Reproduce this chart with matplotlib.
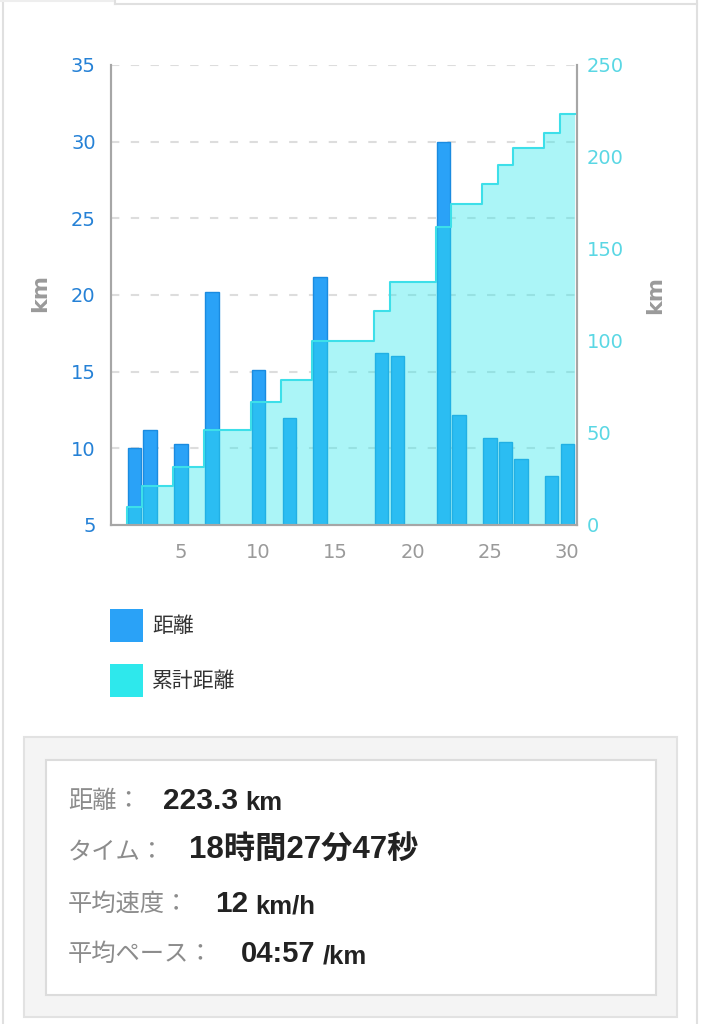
import matplotlib
matplotlib.use("Agg")
import matplotlib.pyplot as plt
import numpy as np
from matplotlib.patches import Rectangle
from matplotlib.lines import Line2D

# daily distances (km) for the month
run_days = [2, 3, 5, 7, 10, 12, 14, 18, 19, 22, 23, 25, 26, 27, 29, 30]
distances = [10.0, 11.2, 10.3, 20.2, 15.1, 12.0, 21.2, 16.2, 16.0, 30.0,
             12.2, 10.7, 10.4, 9.3, 8.2, 10.3]

left_ticks = [5, 10, 15, 20, 25, 30, 35]
right_ticks = [0, 50, 100, 150, 200, 250]
x_ticks = [5, 10, 15, 20, 25, 30]

legend_labels = ["距離", "累計距離"]
stat_labels = ["距離：", "タイム：", "平均速度：", "平均ペース："]
stat_values = ["223.3", "18時間27分47秒", "12", "04:57"]
stat_units = ["km", "", "km/h", "/km"]

W, H = 702, 1024
BAR_COLOR = "#2aa2f7"
CUM_COLOR = "#2ee8ec"
JP = ["Noto Sans CJK JP", "DejaVu Sans"]
NUM = ["Liberation Sans", "Noto Sans CJK JP"]


def fx(x):
    return x / W


def fy(y):
    return 1 - y / H


fig = plt.figure(figsize=(W / 100, H / 100), dpi=100)
fig.patch.set_facecolor("white")

ax = fig.add_axes([fx(111), fy(525), fx(577) - fx(111), fy(65) - fy(525)])
ax2 = ax.twinx()

days = np.array(run_days)
dist = np.array(distances)
cum = np.cumsum(dist)

# bars
ax.bar(days, dist, width=0.86, color=BAR_COLOR, edgecolor="#1a8be0",
       linewidth=1, zorder=2)
ax.set_xlim(0.47, 30.63)
ax.set_ylim(5, 35)
ax.set_yticks(left_ticks)
ax.set_xticks(x_ticks)
ax.yaxis.grid(True, color="#dddddd", linestyle=(0, (4, 5.5)), linewidth=1.5)
ax.set_axisbelow(True)

# cumulative step area
edge_x = np.append(days - 0.5, days[-1] + 0.5)
edge_y = np.append(cum, cum[-1])
ax2.fill_between(edge_x, edge_y, 0, step="post", color=CUM_COLOR,
                 alpha=0.4, linewidth=0)
ax2.plot(np.r_[edge_x[0], edge_x], np.r_[0, edge_y], drawstyle="steps-post",
         color="#3ddfe9", linewidth=1.5)
ax2.set_ylim(0, 250)
ax2.set_yticks(right_ticks)

for a in (ax, ax2):
    a.spines["top"].set_visible(False)
    for s in ("left", "bottom", "right"):
        a.spines[s].set_color("#a6a6a6")
        a.spines[s].set_linewidth(1.5)

ax.tick_params(axis="y", length=0, pad=11, labelsize=14, labelcolor="#2581d6")
ax.tick_params(axis="x", length=0, pad=13, labelsize=14, labelcolor="#9a9a9a")
ax2.tick_params(axis="y", length=0, pad=7, labelsize=14, labelcolor="#5ad7e4")

fig.text(fx(40), fy(293), "km", rotation=90, ha="center", va="center",
         fontsize=16, fontweight="bold", color="#9a9a9a")
fig.text(fx(655), fy(295), "km", rotation=90, ha="center", va="center",
         fontsize=16, fontweight="bold", color="#9a9a9a")

# legend
for i, (lab, col) in enumerate(zip(legend_labels, [BAR_COLOR, CUM_COLOR])):
    top = 609 + i * 55
    fig.patches.append(Rectangle((fx(110), fy(top + 33)), fx(33), 33 / H,
                                 transform=fig.transFigure, facecolor=col,
                                 edgecolor="none"))
    fig.text(fx(152), fy(top + 17), lab, ha="left", va="center",
             fontsize=15, color="#333333", family=JP)

# stats box
fig.patches.append(Rectangle((fx(24), fy(1017)), fx(653), 280 / H,
                             transform=fig.transFigure, facecolor="#f4f4f4",
                             edgecolor="#e2e2e2", linewidth=1.5))
fig.patches.append(Rectangle((fx(46), fy(995)), fx(610), 235 / H,
                             transform=fig.transFigure, facecolor="white",
                             edgecolor="#dcdcdc", linewidth=1.5))

row_y = [801, 851, 904, 954]
value_x = [163, 189, 215, 241]
value_size = [21.5, 22.5, 21.5, 21]
renderer = fig.canvas.get_renderer()
for lab, val, unit, y, x0, vs in zip(stat_labels, stat_values, stat_units,
                                     row_y, value_x, value_size):
    fig.text(fx(68), fy(y), lab, ha="left", va="center", fontsize=17.5,
             color="#8c8c8c", family=JP)
    t = fig.text(fx(x0), fy(y), val, ha="left", va="center", fontsize=vs,
                 fontweight="bold", color="#222222", family=NUM)
    if unit:
        bb = t.get_window_extent(renderer)
        fig.text(fx(bb.x1 + 7), fy(y + 2), unit, ha="left", va="center",
                 fontsize=18.5, fontweight="bold", color="#222222", family=NUM)

# page frame
frame = "#e0e0e0"
fig.add_artist(Line2D([fx(3), fx(3)], [0, 1], color=frame, linewidth=1.5))
fig.add_artist(Line2D([fx(697), fx(697)], [0, 1], color=frame, linewidth=1.5))
fig.add_artist(Line2D([fx(115), fx(697)], [fy(4), fy(4)], color=frame,
                      linewidth=1.5))
fig.add_artist(Line2D([fx(115), fx(115)], [fy(4), 1], color=frame,
                      linewidth=1.5))
fig.add_artist(Line2D([0, fx(113)], [fy(1), fy(1)], color="#eeeeee",
                      linewidth=1.5))

fig.savefig("out.png", dpi=100, facecolor="white")
